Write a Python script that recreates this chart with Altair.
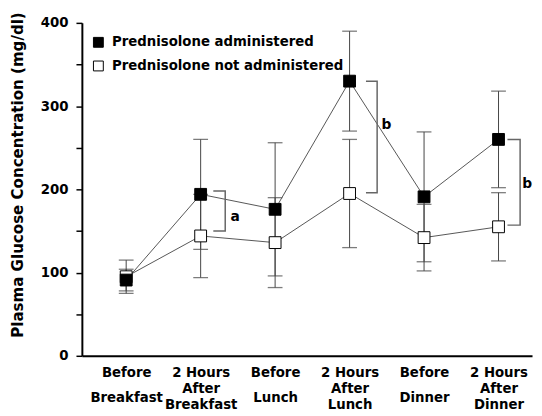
import json
import altair as alt
import pandas as pd

# ---- data ----
cat_lines = [["Before", "Breakfast"], ["2 Hours", "After", "Breakfast"],
             ["Before", "Lunch"], ["2 Hours", "After", "Lunch"],
             ["Before", "Dinner"], ["2 Hours", "After", "Dinner"]]
idx = [0, 1, 2, 3, 4, 5]
series = ["Prednisolone administered", "Prednisolone not administered"]
pred_mean = [91, 194, 176, 330, 191, 260]
pred_sd = [13, 66, 80, 60, 78, 58]
nopred_mean = [95, 144, 136, 195, 142, 155]
nopred_sd = [20, 50, 54, 65, 40, 41]

# significance brackets: (x start, x end, y top, y bottom)
br_x0 = [1.17, 3.22, 5.12]
br_x1 = [1.33, 3.37, 5.29]
br_top = [198, 330, 260]
br_bot = [150, 196, 157]
ann_x = [1.40, 3.43, 5.32]
ann_y = [167, 277, 206]
ann_text = ["a", "b", "b"]

FONT = "DejaVu Sans"
FS = 13.5

rows = []
for s, means, sds in [(series[1], nopred_mean, nopred_sd), (series[0], pred_mean, pred_sd)]:
    for i, m, sd in zip(idx, means, sds):
        rows.append(dict(i=i, series=s, mean=m, lo=m - sd, hi=m + sd))
df = pd.DataFrame(rows)

brows = []
for k, (a, b, t, u) in enumerate(zip(br_x0, br_x1, br_top, br_bot)):
    for o, (x, y) in enumerate([(a, t), (b, t), (b, u), (a, u)]):
        brows.append(dict(g=k, o=o, x=x, y=y))
bdf = pd.DataFrame(brows)
adf = pd.DataFrame(dict(x=ann_x, y=ann_y, t=ann_text))

xscale = alt.Scale(domain=[-0.595, 5.45], nice=False, zero=False)
yscale = alt.Scale(domain=[0, 400], nice=False)

label_expr = json.dumps(cat_lines) + "[datum.value]"

xaxis_a = alt.Axis(values=[0, 2, 4], labelExpr=label_expr, labelLineHeight=25,
                   title="", ticks=False, grid=False, domainColor="black", domainWidth=2,
                   labelFont=FONT, labelFontSize=FS, labelFontWeight="bold", labelColor="black",
                   labelPadding=10, labelAlign="center", labelBaseline="top", orient="bottom")
xaxis_b = alt.Axis(values=[1, 3, 5], labelExpr=label_expr, labelLineHeight=16.5,
                   title="", ticks=False, grid=False, domain=False,
                   labelFont=FONT, labelFontSize=FS, labelFontWeight="bold", labelColor="black",
                   labelPadding=10, labelAlign="center", labelBaseline="top", orient="bottom")
yaxis = alt.Axis(values=[0, 50, 100, 150, 200, 250, 300, 350, 400],
                 labelExpr="datum.value % 100 == 0 ? datum.label : ''",
                 title="Plasma Glucose Concentration (mg/dl)", grid=False,
                 domainColor="black", domainWidth=2, tickColor="black", tickSize=6, tickWidth=1.5,
                 labelFont=FONT, labelFontSize=FS, labelFontWeight="bold", labelColor="black",
                 labelPadding=8, titleFont=FONT, titleFontSize=15.3, titleFontWeight="bold",
                 titleColor="black", titleAngle=270, titleX=-65, titleY=154,
                 titleAlign="center", titleBaseline="middle")

base = alt.Chart(df)

err = base.mark_rule(color="#444", strokeWidth=1).encode(
    x=alt.X("i:Q", scale=xscale, axis=xaxis_a),
    y=alt.Y("lo:Q", scale=yscale, axis=yaxis),
    y2="hi:Q",
)
caps_lo = base.mark_tick(color="#444", orient="horizontal", size=15, thickness=1.3).encode(
    x=alt.X("i:Q", scale=xscale, axis=xaxis_b),
    y=alt.Y("lo:Q", scale=yscale, axis=yaxis),
)
caps_hi = base.mark_tick(color="#444", orient="horizontal", size=15, thickness=1.3).encode(
    x=alt.X("i:Q", scale=xscale, axis=None),
    y=alt.Y("hi:Q", scale=yscale, axis=yaxis),
)
lines = base.mark_line(color="#555", strokeWidth=1).encode(
    x=alt.X("i:Q", scale=xscale, axis=None),
    y=alt.Y("mean:Q", scale=yscale, axis=yaxis),
    detail="series:N",
)
points = base.mark_point(shape="square", filled=True, size=144, stroke="black",
                         strokeWidth=1, opacity=1).encode(
    x=alt.X("i:Q", scale=xscale, axis=None),
    y=alt.Y("mean:Q", scale=yscale, axis=yaxis),
    fill=alt.Fill("series:N", scale=alt.Scale(domain=series, range=["black", "white"]),
                  legend=alt.Legend(orient="none", legendX=10, legendY=13, title=None,
                                    symbolType="square", symbolSize=100,
                                    symbolStrokeColor="black", symbolStrokeWidth=1,
                                    labelFont=FONT, labelFontSize=FS, labelFontWeight="bold",
                                    labelColor="black", rowPadding=9, labelOffset=7,
                                    labelLimit=400, padding=0)),
)
brackets = alt.Chart(bdf).mark_line(color="#666", strokeWidth=1.5).encode(
    x=alt.X("x:Q", scale=xscale, axis=None),
    y=alt.Y("y:Q", scale=yscale, axis=yaxis),
    detail="g:N",
    order="o:Q",
)
ann = alt.Chart(adf).mark_text(font=FONT, fontSize=14, fontWeight="bold", color="black",
                               align="left", baseline="middle").encode(
    x=alt.X("x:Q", scale=xscale, axis=None),
    y=alt.Y("y:Q", scale=yscale, axis=yaxis),
    text="t:N",
)

chart = alt.layer(err, caps_lo, caps_hi, lines, brackets, ann, points).resolve_axis(
    x="independent"
).properties(
    width=457, height=338,
    autosize=alt.AutoSizeParams(type="none"),
    padding={"left": 75, "top": 12, "right": 2, "bottom": 58},
    background="white",
).configure_view(stroke=None)

chart.save("out.html", embed_options={"renderer": "svg", "actions": False})
